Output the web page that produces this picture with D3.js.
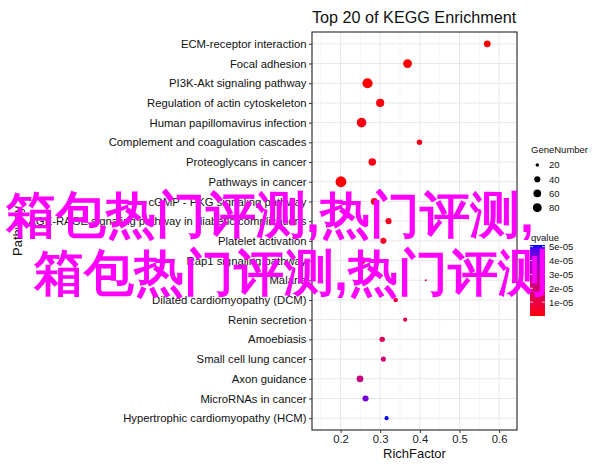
<!DOCTYPE html>
<html>
<head>
<meta charset="utf-8">
<script src="https://cdn.jsdelivr.net/npm/d3@7"></script>
<style>
  html, body { margin: 0; padding: 0; background: #fff; }
  svg { display: block; }
  text { font-family: "Liberation Sans", Arial, Helvetica, sans-serif; }
</style>
</head>
<body>
<svg id="chart" width="600" height="471"></svg>
<script>
// ---- data ----
const pathways = [
  "ECM-receptor interaction",
  "Focal adhesion",
  "PI3K-Akt signaling pathway",
  "Regulation of actin cytoskeleton",
  "Human papillomavirus infection",
  "Complement and coagulation cascades",
  "Proteoglycans in cancer",
  "Pathways in cancer",
  "cGMP - PKG signaling pathway",
  "AGE-RAGE signaling pathway in diabetic complications",
  "Platelet activation",
  "Rap1 signaling pathway",
  "Malaria",
  "Dilated cardiomyopathy (DCM)",
  "Renin secretion",
  "Amoebiasis",
  "Small cell lung cancer",
  "Axon guidance",
  "MicroRNAs in cancer",
  "Hypertrophic cardiomyopathy (HCM)"
];
const richFactor = [0.570, 0.369, 0.268, 0.300, 0.253, 0.399, 0.280, 0.201, 0.285, 0.321,
                    0.308, 0.255, 0.415, 0.339, 0.363, 0.305, 0.308, 0.249, 0.263, 0.316];
const geneNumber = [47, 78, 106, 67, 93, 33, 58, 120, 47, 39,
                    39, 47, 17, 26, 23, 33, 30, 47, 39, 23];
const qvalue = [2.1e-08, 3.5e-07, 4.6e-07, 1.2e-06, 1.8e-06, 2.3e-06, 2.5e-06, 3.1e-07, 3.8e-06, 4.1e-06,
                4.5e-06, 5.2e-06, 6.0e-06, 9.0e-06, 1.3e-05, 1.5e-05, 2.0e-05, 2.4e-05, 4.35e-05, 5.12e-05];
const xTicks = [0.2, 0.3, 0.4, 0.5, 0.6];
const xMinor = [0.15, 0.25, 0.35, 0.45, 0.55];
const sizeBreaks = [20, 40, 60, 80];
const qBreaks = [5e-05, 4e-05, 3e-05, 2e-05, 1e-05];
const qBreakLabels = ["5e-05", "4e-05", "3e-05", "2e-05", "1e-05"];
const titleText = "Top 20 of KEGG Enrichment";
const xTitle = "RichFactor";
const yTitle = "Pathway";
const watermark = ["箱包热门评测,热门评测,", "箱包热门评测,热门评测"];

// ---- layout ----
const svg = d3.select("#chart");
const P = { left: 312, right: 517, top: 32, bottom: 430 };

const x = d3.scaleLinear().domain([0.128, 0.645]).range([P.left, P.right]);
const y = d3.scalePoint().domain(pathways).range([P.top, P.bottom]).padding(0.6);

const gMin = d3.min(geneNumber), gMax = d3.max(geneNumber);
const rLin = d3.scaleLinear().domain([0, 1]).range([1.0, 5.4]);
const r = v => rLin(Math.sqrt(Math.max(0, (v - gMin) / (gMax - gMin))));

const qExt = d3.extent(qvalue);
const color = d3.scaleLinear().domain(qExt).range(["#ff0000", "#0000ff"]).interpolate(d3.interpolateLab);

const data = pathways.map((p, i) => ({ p, rf: richFactor[i], g: geneNumber[i], q: qvalue[i] }));

// panel background + grid
svg.append("rect").attr("x", P.left).attr("y", P.top)
  .attr("width", P.right - P.left).attr("height", P.bottom - P.top).attr("fill", "#fff");

const grid = svg.append("g");
grid.selectAll(".minor").data(xMinor).join("line")
  .attr("x1", d => x(d)).attr("x2", d => x(d)).attr("y1", P.top).attr("y2", P.bottom)
  .attr("stroke", "#f0f0f0").attr("stroke-width", 0.6);
grid.selectAll(".vmaj").data(xTicks).join("line")
  .attr("x1", d => x(d)).attr("x2", d => x(d)).attr("y1", P.top).attr("y2", P.bottom)
  .attr("stroke", "#e8e8e8").attr("stroke-width", 1);
grid.selectAll(".hmaj").data(pathways).join("line")
  .attr("x1", P.left).attr("x2", P.right).attr("y1", d => y(d)).attr("y2", d => y(d))
  .attr("stroke", "#e8e8e8").attr("stroke-width", 1);

// points
svg.append("g").selectAll("circle").data(data).join("circle")
  .attr("cx", d => x(d.rf)).attr("cy", d => y(d.p))
  .attr("r", d => r(d.g)).attr("fill", d => color(d.q));

// border
svg.append("rect").attr("x", P.left).attr("y", P.top)
  .attr("width", P.right - P.left).attr("height", P.bottom - P.top)
  .attr("fill", "none").attr("stroke", "#222").attr("stroke-width", 1.1);

// axes
const xAxis = svg.append("g").attr("transform", `translate(0,${P.bottom})`)
  .call(d3.axisBottom(x).tickValues(xTicks).tickSize(3).tickPadding(2).tickFormat(d3.format(".1f")));
xAxis.select(".domain").remove();
xAxis.selectAll("line").attr("stroke", "#333");
xAxis.selectAll("text").attr("font-size", "11.3px").attr("fill", "#222")
  .attr("font-family", "Liberation Sans, Arial, sans-serif");

const yAxis = svg.append("g").attr("transform", `translate(${P.left},0)`)
  .call(d3.axisLeft(y).tickSize(3).tickPadding(2.5));
yAxis.select(".domain").remove();
yAxis.selectAll("line").attr("stroke", "#333");
yAxis.selectAll("text").attr("font-size", "11.3px").attr("fill", "#111")
  .attr("font-family", "Liberation Sans, Arial, sans-serif");

// titles
svg.append("text").attr("x", P.left).attr("y", 23.3).attr("font-size", "16.2px").attr("fill", "#111")
  .text(titleText);
svg.append("text").attr("x", (P.left + P.right) / 2).attr("y", 457.5).attr("text-anchor", "middle")
  .attr("font-size", "13px").attr("fill", "#111").text(xTitle);
svg.append("text").attr("transform", `translate(21.5,${(P.top + P.bottom) / 2}) rotate(-90)`)
  .attr("text-anchor", "middle").attr("font-size", "13px").attr("fill", "#111").text(yTitle);

// size legend
const lg = svg.append("g");
lg.append("text").attr("x", 531).attr("y", 153).attr("font-size", "9.5px").attr("fill", "#111").text("GeneNumber");
const legY = d3.scalePoint().domain(sizeBreaks).range([165, 207.7]);
lg.selectAll("circle").data(sizeBreaks).join("circle")
  .attr("cx", 537.3).attr("cy", d => legY(d)).attr("r", d => r(d)).attr("fill", "#000");
lg.selectAll(".lbl").data(sizeBreaks).join("text")
  .attr("x", 549).attr("y", d => legY(d) + 3.4).attr("font-size", "9.5px").attr("fill", "#111").text(d => d);

// colorbar
const cb = svg.append("g");
const cbTop = 245, cbBot = 316, cbX = 530, cbW = 15;
cb.append("text").attr("x", 531).attr("y", 241).attr("font-size", "9.5px").attr("fill", "#111").text("qvalue");
const qy = d3.scaleLinear().domain(qExt).range([cbBot, cbTop]);
const defs = svg.append("defs");
const grad = defs.append("linearGradient").attr("id", "qgrad")
  .attr("x1", 0).attr("y1", 1).attr("x2", 0).attr("y2", 0);
d3.range(0, 1.0001, 0.05).forEach(t => {
  grad.append("stop").attr("offset", t).attr("stop-color", color(qExt[0] + t * (qExt[1] - qExt[0])));
});
cb.append("rect").attr("x", cbX).attr("y", cbTop).attr("width", cbW).attr("height", cbBot - cbTop)
  .attr("fill", "url(#qgrad)");
qBreaks.forEach((b, i) => {
  cb.append("line").attr("x1", cbX).attr("x2", cbX + 3).attr("y1", qy(b)).attr("y2", qy(b))
    .attr("stroke", "#fff").attr("stroke-width", 0.8);
  cb.append("line").attr("x1", cbX + cbW - 3).attr("x2", cbX + cbW).attr("y1", qy(b)).attr("y2", qy(b))
    .attr("stroke", "#fff").attr("stroke-width", 0.8);
  cb.append("text").attr("x", 549).attr("y", qy(b) + 3.4).attr("font-size", "9.5px").attr("fill", "#111")
    .text(qBreakLabels[i]);
});

// watermark overlay
const wm = svg.append("g").attr("font-family", "Noto Sans CJK SC, sans-serif")
  .attr("font-size", "50px").attr("font-weight", 700).attr("fill", "#ff00ff");
wm.append("text").attr("x", 6).attr("y", 232).text(watermark[0]);
wm.append("text").attr("x", 34).attr("y", 290).text(watermark[1]);
</script>
</body>
</html>
